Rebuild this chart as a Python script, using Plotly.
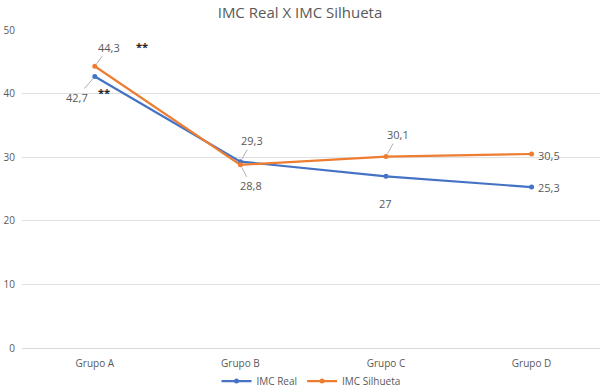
import plotly.graph_objects as go

categories = ["Grupo A", "Grupo B", "Grupo C", "Grupo D"]
imc_real = [42.7, 29.3, 27, 25.3]
imc_silhueta = [44.3, 28.8, 30.1, 30.5]
y_ticks = [0, 10, 20, 30, 40, 50]

BLUE = "#4472C4"
ORANGE = "#ED7D31"
TXT = "#595959"
FONT = "Open Sans"

def fmt(v):
    s = ("%g" % v)
    return s.replace(".", ",")

fig = go.Figure()
fig.add_trace(go.Scatter(x=categories, y=imc_real, name="IMC Real", mode="lines+markers",
                         line=dict(color=BLUE, width=2.2), marker=dict(size=5, color=BLUE)))
fig.add_trace(go.Scatter(x=categories, y=imc_silhueta, name="IMC Silhueta", mode="lines+markers",
                         line=dict(color=ORANGE, width=2.2), marker=dict(size=5, color=ORANGE)))

# label offsets (pixels) per point: (ax, ay, leader)
real_off = [(-18, 21, True), (12, -21, True), (0, 27, False), (17, 0, False)]
sil_off = [(14, -19, True), (11, 21, True), (12, -22, True), (17, 1, False)]

ann = []
for series, offs in ((imc_real, real_off), (imc_silhueta, sil_off)):
    for c, v, (ax, ay, lead) in zip(categories, series, offs):
        ann.append(dict(x=c, y=v, xref="x", yref="y", text=fmt(v), showarrow=True,
                        arrowhead=0, arrowwidth=0.9,
                        arrowcolor="#A6A6A6" if lead else "rgba(0,0,0,0)",
                        ax=ax, ay=ay, standoff=3, startstandoff=0,
                        font=dict(family=FONT, size=11, color=TXT)))

# significance markers
ann.append(dict(x=categories[0], y=imc_silhueta[0], xref="x", yref="y", text="<b>**</b>",
                showarrow=False, xshift=47, yshift=20, font=dict(family=FONT, size=11, color="#222")))
ann.append(dict(x=categories[0], y=imc_real[0], xref="x", yref="y", text="<b>**</b>",
                showarrow=False, xshift=9, yshift=-16, font=dict(family=FONT, size=11, color="#222")))

fig.update_layout(
    width=600, height=389,
    margin=dict(l=22, r=0, t=30, b=41, autoexpand=False),
    paper_bgcolor="white", plot_bgcolor="white",
    title=dict(text="IMC Real X IMC Silhueta", x=0.5, xanchor="center",
               yref="container", y=0.968, yanchor="middle",
               font=dict(family=FONT, size=15, color=TXT)),
    xaxis=dict(type="category", range=[-0.5, 3.47], showgrid=False, showline=True,
               linecolor="#D9D9D9", linewidth=1, ticks="", ticklabelstandoff=6,
               tickfont=dict(family=FONT, size=10, color=TXT), zeroline=False),
    yaxis=dict(range=[0, 50], tickvals=y_ticks, showgrid=True, gridcolor="#E0E0E0", gridwidth=1,
               zeroline=False, showline=False, ticks="", ticklabelstandoff=6,
               tickfont=dict(family=FONT, size=10, color=TXT)),
    legend=dict(orientation="h", x=0.5, xanchor="center", yref="paper", y=-0.104, yanchor="middle",
                bgcolor="rgba(0,0,0,0)",
                font=dict(family=FONT, size=10, color=TXT), itemwidth=30, tracegroupgap=0),
    annotations=ann,
    showlegend=True,
)

fig.write_html("out.html", config={"displayModeBar": False},
               post_script="document.body.style.margin='0px';document.body.style.overflow='hidden';")
